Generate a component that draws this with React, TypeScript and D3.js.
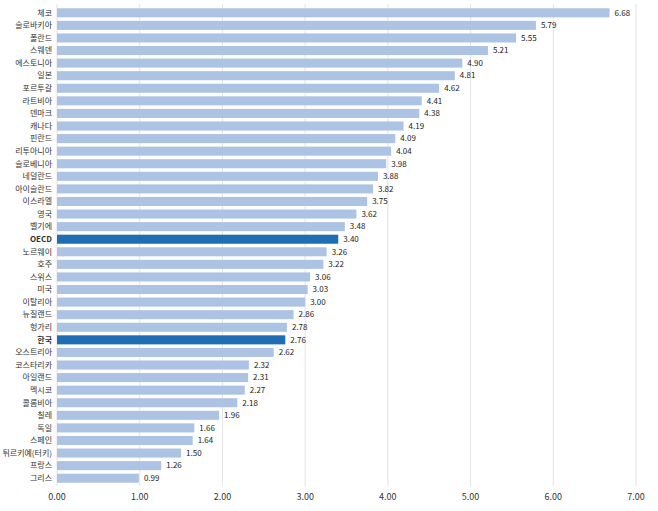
import React from 'react';
import { scaleLinear, scaleBand, range } from 'd3';

const countries = ['체코', '슬로바키아', '폴란드', '스웨덴', '에스토니아', '일본', '포르투갈', '라트비아', '덴마크', '캐나다', '핀란드', '리투아니아', '슬로베니아', '네덜란드', '아이슬란드', '이스라엘', '영국', '벨기에', 'OECD', '노르웨이', '호주', '스위스', '미국', '이탈리아', '뉴질랜드', '헝가리', '한국', '오스트리아', '코스타리카', '아일랜드', '멕시코', '콜롬비아', '칠레', '독일', '스페인', '튀르키예(터키)', '프랑스', '그리스'];
const values = [6.68, 5.79, 5.55, 5.21, 4.90, 4.81, 4.62, 4.41, 4.38, 4.19, 4.09, 4.04, 3.98, 3.88, 3.82, 3.75, 3.62, 3.48, 3.40, 3.26, 3.22, 3.06, 3.03, 3.00, 2.86, 2.78, 2.76, 2.62, 2.32, 2.31, 2.27, 2.18, 1.96, 1.66, 1.64, 1.50, 1.26, 0.99];
const highlighted = ['OECD', '한국'];
const ticks = range(0, 8);

const App = () => {
  const x = scaleLinear().domain([0, 7]).range([57, 636]);
  const y = scaleBand().domain(countries).range([7, 484]).paddingInner(0.28).paddingOuter(0.1);
  const font = "'Noto Sans CJK KR', 'Noto Sans', sans-serif";
  return (
    <svg width={658} height={511} style={{ position: 'absolute', left: 0, top: 0, background: '#fff' }} fontFamily={font}>
      {ticks.map(t => (
        <g key={t}>
          <line x1={x(t)} x2={x(t)} y1={4} y2={486} stroke="#dcdcdc" strokeWidth={0.8} />
          <text x={x(t)} y={500} textAnchor="middle" fontSize={9} fill="#333">{t.toFixed(2)}</text>
        </g>
      ))}
      {countries.map((c, i) => {
        const hi = highlighted.includes(c);
        const yy = y(c)!;
        const cy = yy + y.bandwidth() / 2;
        return (
          <g key={c}>
            <rect x={x(0)} y={yy} width={x(values[i]) - x(0)} height={y.bandwidth()} fill={hi ? '#1f6db3' : '#adc3e3'} />
            <text x={52} y={cy} dy="0.35em" textAnchor="end" fontSize={8} fill="#333" fontWeight={hi ? 'bold' : 'normal'}>{c}</text>
            <text x={x(values[i]) + 5} y={cy} dy="0.35em" fontSize={8} fill="#222">{values[i].toFixed(2)}</text>
          </g>
        );
      })}
    </svg>
  );
};

export default App;
